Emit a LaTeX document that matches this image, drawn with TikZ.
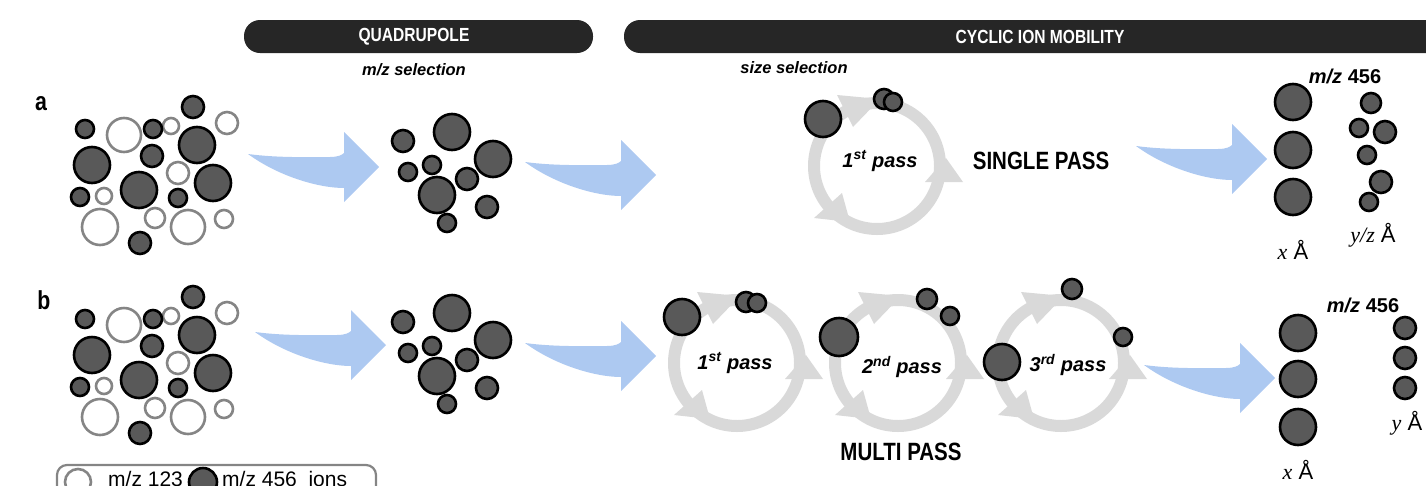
\documentclass[tikz,border=0pt]{standalone}
\usepackage{fontspec}
\setmainfont{Liberation Serif}
\setsansfont{Liberation Sans}
\newfontfamily\condfont[FakeStretch=0.82]{Liberation Sans}
\definecolor{bar}{HTML}{262626}
\definecolor{ionfill}{HTML}{595959}
\definecolor{openline}{HTML}{858585}
\definecolor{flowblue}{HTML}{ADC9F1}
\definecolor{ringgray}{HTML}{D9D9D9}
\tikzset{
  ion/.style={draw=black,fill=ionfill,line width=2.6pt},
  light/.style={draw=openline,fill=white,line width=2.6pt},
  header/.style={text=white,inner sep=0pt,font=\condfont\bfseries\fontsize{19}{22}\selectfont},
  sel/.style={inner sep=0pt,font=\sffamily\bfseries\itshape\fontsize{16.5}{19}\selectfont},
  rowlabel/.style={inner sep=0pt,font=\condfont\bfseries\fontsize{26}{30}\selectfont},
  pass/.style={inner sep=0pt,font=\sffamily\bfseries\itshape\fontsize{20}{24}\selectfont},
  mode/.style={inner sep=0pt,font=\condfont\bfseries\fontsize{25}{29}\selectfont},
  mz/.style={inner sep=0pt,font=\sffamily\bfseries\fontsize{20}{24}\selectfont},
  size/.style={inner sep=0pt,font=\sffamily\fontsize{22}{26}\selectfont},
  key/.style={inner sep=0pt,anchor=base west,font=\sffamily\fontsize{21}{25}\selectfont},
  pics/mixture/.style={
    code={
      \foreach \x/\y/\r in {124/135/17,171/126/8,227/123/11,178/173/11,104/196/8,
                            100/227/18,155/218/10,188/227/17,224/219/9}
        \filldraw[light] (\x,\y) circle[radius=\r];
      \foreach \x/\y/\r in {193/107/11,85/129/9,153/129/9,197/145/18,92/165/18,
                            152/156/11,139/190/18,213/183/18,80/197/9,178/198/9,140/243/11}
        \filldraw[ion] (\x,\y) circle[radius=\r];
    }
  },
  pics/selected/.style={
    code={
      \foreach \x/\y/\r in {452/132/18,403/141/11,493/159/18,432/165/9,408/172/9,
                            467/179/11,437/195/18,487/207/11,447/223/9}
        \filldraw[ion] (\x,\y) circle[radius=\r];
    }
  },
  pics/flow/.style={
    code={
      \fill[flowblue] (0,0) .. controls (30,4) and (60,3) .. (82,3)
        .. controls (90,3) and (94,1) .. (96,-1) -- (96,-22) -- (131,13) -- (96,48)
        -- (96,34) .. controls (70,34) and (30,22) .. (0,0) -- cycle;
    }
  },
  pics/cycle/.style={
    code={
      \draw[ringgray,line width=12pt] (0,0) circle[radius=63];
      \fill[ringgray] (-40,-71) -- (-24,-39) -- (3,-67) -- cycle;
      \fill[ringgray] (48,16) -- (86,16) -- (69,-8) -- cycle;
      \fill[ringgray] (-63,52) -- (-35,27) -- (-27,56) -- cycle;
    }
  },
}

\begin{document}
\begin{tikzpicture}[x=1pt,y=-1pt]
\clip (0,0) rectangle (1426,485);
\fill[bar,rounded corners=16pt] (244,20) rectangle (593,53);
\fill[bar,rounded corners=16pt] (624,20) rectangle (1470,53);
\node[header] (hquad) at (414,37) {QUADRUPOLE};
\node[header] (hcim) at (1040,37) {CYCLIC ION MOBILITY};
\node[sel] (selmz) at (414,70) {m/z selection};
\node[sel] (selsize) at (794,68) {size selection};

\node[rowlabel] (rowa) at (41,104) {a};
\node[rowlabel] (rowb) at (44,300) {b};

\pic at (0,0) {mixture};
\pic at (0,190) {mixture};
\pic at (0,0) {selected};
\pic at (0,181) {selected};

% trap
\pic at (877,166) {cycle};
\foreach \cx in {737,898,1061}
  \pic at (\cx,363) {cycle};

\pic at (248,154) {flow};
\pic at (525,162) {flow};
\pic at (1136,146) {flow};
\pic at (255,332) {flow};
\pic at (525,343) {flow};
\pic at (1144,365) {flow};

% ions in the trap and after it
\foreach \x/\y/\r in {823/119/18,884/99/10,893/102/9,
                      682/317/18,746/302/10,757/303/9,
                      839/337/19,927/299/10,950/316/9,
                      1002/362/18,1072/289/10,1123/337/9,
                      1293/102/18,1293/150/18,1293/197/18,
                      1371/103/10,1359/128/9,1385/132/11,1367/155/9,1381/182/11,1369/202/9,
                      1298/333/18,1298/379/18,1298/427/18,
                      1405/328/11,1405/358/11,1405/388/11}
  \filldraw[ion] (\x,\y) circle[radius=\r];

\node[pass] (passa) at (880,161) {1\textsuperscript{st} pass};
\node[pass] (passb1) at (735,363) {1\textsuperscript{st} pass};
\node[pass] (passb2) at (902,367) {2\textsuperscript{nd} pass};
\node[pass] (passb3) at (1068,365) {3\textsuperscript{rd} pass};
\node[mode] (single) at (1041,161) {SINGLE PASS};
\node[mode] (multi) at (901,452) {MULTI PASS};

\node[mz] (mza) at (1345,76) {\textit{m/z} 456};
\node[mz] (mzb) at (1363,305) {\textit{m/z} 456};
\node[size] (xa) at (1293,250) {{\rmfamily\itshape x} Å};
\node[size] (yza) at (1373,235) {{\rmfamily\itshape y/z} Å};
\node[size] (xb) at (1298,470) {{\rmfamily\itshape x} Å};
\node[size] (yb) at (1407,423) {{\rmfamily\itshape y} Å};

% key
\draw[openline,line width=2.2pt,rounded corners=10pt] (57,465) rectangle (376,510);
\filldraw[light] (78,482) circle[radius=13];
\filldraw[ion] (203,482) circle[radius=14];
\node[key] (key123) at (108,486) {m/z 123};
\node[key] (key456) at (222,486) {m/z 456\ \ ions};
\end{tikzpicture}
\end{document}
